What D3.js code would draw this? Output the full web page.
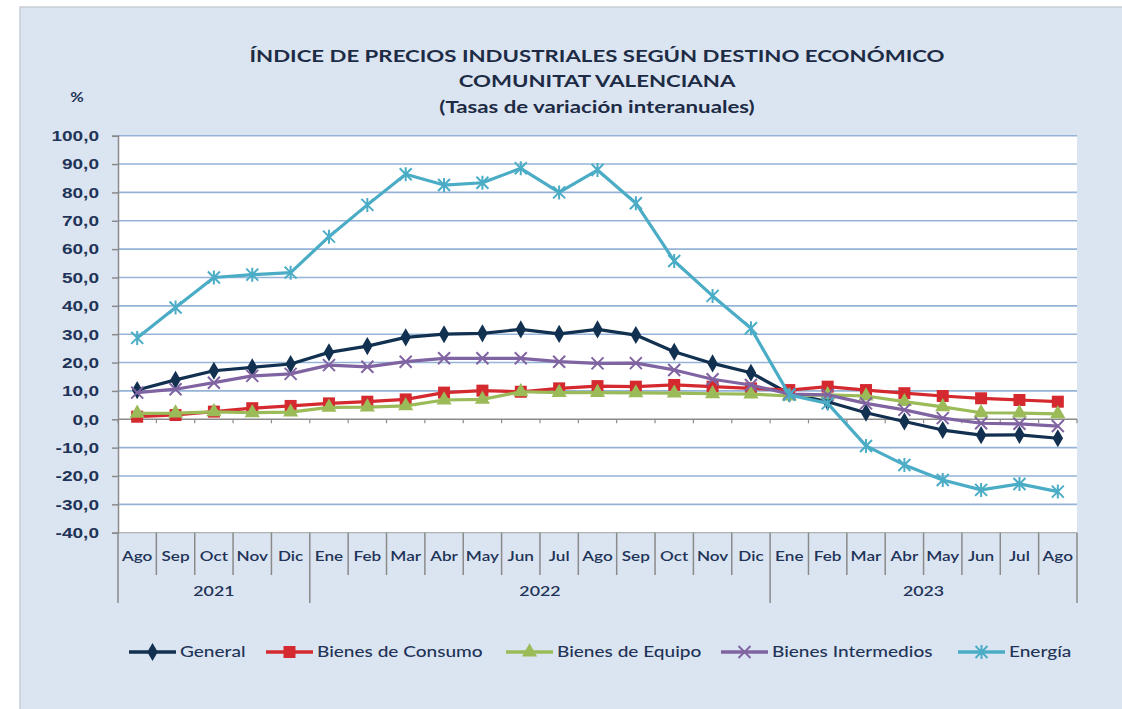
<!DOCTYPE html>
<html>
<head>
<meta charset="utf-8">
<script src="https://cdn.jsdelivr.net/npm/d3@7"></script>
<style>
  body { margin: 0; background: #ffffff; }
  svg { display: block; font-family: Lato, "Open Sans", sans-serif; }
</style>
</head>
<body>
<svg id="chart" width="1122" height="709"></svg>
<script>
// Months shown on the x axis (Ago 2021 .. Ago 2023)
const months = ["Ago","Sep","Oct","Nov","Dic","Ene","Feb","Mar","Abr","May","Jun","Jul","Ago",
                "Sep","Oct","Nov","Dic","Ene","Feb","Mar","Abr","May","Jun","Jul","Ago"];
const years = [{label: "2021", from: 0, to: 5}, {label: "2022", from: 5, to: 17}, {label: "2023", from: 17, to: 25}];
const yTicks = [100, 90, 80, 70, 60, 50, 40, 30, 20, 10, 0, -10, -20, -30, -40];

// Values
const general     = [10.3, 13.9, 17.1, 18.3, 19.5, 23.6, 25.8, 28.9, 30.0, 30.3, 31.7, 30.1, 31.7,
                     29.7, 23.8, 19.7, 16.4, 9.0, 6.2, 2.3, -0.8, -3.8, -5.6, -5.5, -6.7];
const consumo     = [0.9, 1.5, 2.7, 3.9, 4.7, 5.6, 6.2, 7.0, 9.4, 10.1, 9.7, 10.9, 11.7,
                     11.5, 12.1, 11.5, 10.9, 10.3, 11.5, 10.3, 9.2, 8.2, 7.4, 6.8, 6.2];
const equipo      = [2.1, 2.2, 2.6, 2.3, 2.5, 4.2, 4.3, 4.7, 6.8, 7.0, 9.7, 9.4, 9.4,
                     9.3, 9.2, 9.0, 8.9, 8.2, 8.6, 8.2, 6.2, 4.4, 2.3, 2.2, 1.9];
const intermedios = [9.4, 10.6, 12.9, 15.3, 16.0, 19.1, 18.5, 20.3, 21.5, 21.5, 21.5, 20.3, 19.7,
                     19.8, 17.4, 14.1, 12.1, 8.9, 8.6, 5.6, 3.3, 0.4, -1.4, -1.6, -2.4];
const energia     = [28.7, 39.4, 50.0, 51.0, 51.7, 64.4, 75.6, 86.4, 82.6, 83.4, 88.5, 80.0, 87.9,
                     76.2, 55.8, 43.5, 32.1, 8.6, 5.6, -9.4, -16.1, -21.4, -24.9, -22.8, -25.5];

const series = [
  {name: "General", values: general, color: "#12304f", marker: "diamond"},
  {name: "Bienes de Consumo", values: consumo, color: "#d42a2f", marker: "square"},
  {name: "Bienes de Equipo", values: equipo, color: "#9bbb59", marker: "triangle"},
  {name: "Bienes Intermedios", values: intermedios, color: "#8064a2", marker: "cross"},
  {name: "Energía", values: energia, color: "#4bacc6", marker: "star"}
];

const svg = d3.select("#chart");
const textColor = "#1f3458";
const SX = 1.27; // the original picture is stretched sideways, so is the text

// text layer scaled horizontally; x positions are divided by SX
const textLayer = () => svg.append("g").attr("transform", `scale(${SX},1)`);

// Panel background
svg.append("rect").attr("x", 20).attr("y", 7).attr("width", 1110).attr("height", 710)
  .attr("fill", "#dbe5f1").attr("stroke", "#c9cdd3").attr("stroke-width", 1.5);

const plot = {left: 118, right: 1077, top: 135.7, bottom: 532.7};

const x = d3.scaleBand().domain(d3.range(months.length)).range([plot.left, plot.right]);
const y = d3.scaleLinear().domain([-40, 100]).range([plot.bottom, plot.top]);

// Plot area
svg.append("rect").attr("x", plot.left).attr("y", plot.top)
  .attr("width", plot.right - plot.left).attr("height", plot.bottom - plot.top).attr("fill", "#ffffff");

// Gridlines
svg.append("g").selectAll("line").data(yTicks.filter(d => d !== 0 && d !== -40)).join("line")
  .attr("x1", plot.left).attr("x2", plot.right)
  .attr("y1", d => y(d)).attr("y2", d => y(d))
  .attr("stroke", "#95b3d7").attr("stroke-width", 1.6);

// Y axis
const yAxis = svg.append("g").attr("transform", `translate(${plot.left},0)`)
  .call(d3.axisLeft(y).tickValues(yTicks).tickSize(6)
    .tickFormat(d => d3.format(".1f")(d).replace(".", ",").replace("−", "-")));
yAxis.select(".domain").attr("stroke", "#8a8a8a").attr("stroke-width", 1.5);
yAxis.selectAll(".tick line").attr("stroke", "#8a8a8a").attr("stroke-width", 1.5);
yAxis.selectAll("text").attr("fill", textColor).attr("font-size", 15).attr("font-weight", 600)
  .attr("x", -19 / SX).attr("transform", `scale(${SX},1)`);

// Zero line with small ticks at category boundaries
svg.append("line").attr("x1", plot.left).attr("x2", plot.right)
  .attr("y1", y(0)).attr("y2", y(0)).attr("stroke", "#8a8a8a").attr("stroke-width", 1.5);
svg.append("g").selectAll("line").data(d3.range(months.length + 1)).join("line")
  .attr("x1", i => plot.left + i * x.step()).attr("x2", i => plot.left + i * x.step())
  .attr("y1", y(0)).attr("y2", y(0) + 4).attr("stroke", "#8a8a8a").attr("stroke-width", 1.2);

// Bottom category band
svg.append("line").attr("x1", plot.left).attr("x2", plot.right)
  .attr("y1", plot.bottom).attr("y2", plot.bottom).attr("stroke", "#a0a0a0").attr("stroke-width", 1);
const yearBounds = new Set(years.map(d => d.from).concat([months.length]));
svg.append("g").selectAll("line").data(d3.range(months.length + 1)).join("line")
  .attr("x1", i => plot.left + i * x.step()).attr("x2", i => plot.left + i * x.step())
  .attr("y1", plot.bottom).attr("y2", i => yearBounds.has(i) ? 603 : 575)
  .attr("stroke", "#8a8a8a").attr("stroke-width", 1.5);

textLayer().selectAll("text").data(months).join("text")
  .attr("x", (d, i) => (x(i) + x.bandwidth() / 2) / SX).attr("y", 561)
  .attr("text-anchor", "middle").attr("font-size", 13.5).attr("font-weight", 600)
  .attr("fill", textColor).text(d => d);

textLayer().selectAll("text").data(years).join("text")
  .attr("x", d => (plot.left + (d.from + d.to) / 2 * x.step()) / SX).attr("y", 596)
  .attr("text-anchor", "middle").attr("font-size", 14).attr("font-weight", 600)
  .attr("fill", textColor).text(d => d.label);

// Title
const titleLines = ["ÍNDICE DE PRECIOS INDUSTRIALES SEGÚN DESTINO ECONÓMICO",
                    "COMUNITAT VALENCIANA", "(Tasas de variación interanuales)"];
textLayer().selectAll("text").data(titleLines).join("text")
  .attr("x", 597 / SX).attr("y", (d, i) => 62 + i * 25.5)
  .attr("text-anchor", "middle").attr("font-size", 17.5).attr("font-weight", 700)
  .attr("fill", "#1d2b45").text(d => d);

textLayer().append("text").attr("x", 77 / SX).attr("y", 102).attr("text-anchor", "middle")
  .attr("font-size", 13).attr("font-weight", 700).attr("fill", textColor).text("%");

// Marker drawing
function drawMarker(g, type, color) {
  if (type === "diamond") {
    g.append("path").attr("d", d3.symbol(d3.symbolDiamond, 95)()).attr("fill", color);
  } else if (type === "square") {
    g.append("rect").attr("x", -6).attr("y", -6).attr("width", 12).attr("height", 12).attr("fill", color);
  } else if (type === "triangle") {
    g.append("path").attr("d", d3.symbol(d3.symbolTriangle, 100)()).attr("fill", color);
  } else if (type === "cross") {
    g.append("path").attr("d", "M-6,-6L6,6M-6,6L6,-6").attr("stroke", color).attr("stroke-width", 2);
  } else {
    g.append("path").attr("d", "M-6,-6L6,6M-6,6L6,-6M0,-7L0,7").attr("stroke", color).attr("stroke-width", 2);
  }
}

const line = d3.line().x((d, i) => x(i) + x.bandwidth() / 2).y(d => y(d));

series.forEach(s => {
  const g = svg.append("g");
  g.append("path").datum(s.values).attr("d", line)
    .attr("fill", "none").attr("stroke", s.color).attr("stroke-width", 3.2).attr("stroke-linejoin", "round");
  g.selectAll("g").data(s.values).join("g")
    .attr("transform", (d, i) => `translate(${x(i) + x.bandwidth() / 2},${y(d)})`)
    .each(function () { drawMarker(d3.select(this), s.marker, s.color); });
});

// Legend
const legendX = [129, 266, 506, 721, 958];
const legend = svg.append("g").selectAll("g").data(series).join("g")
  .attr("transform", (d, i) => `translate(${legendX[i]},652)`);
legend.append("line").attr("x1", 0).attr("x2", 47).attr("stroke", d => d.color).attr("stroke-width", 3.5);
legend.append("g").attr("transform", "translate(23.5,0)")
  .each(function (d) { drawMarker(d3.select(this), d.marker, d.color); });
textLayer().selectAll("text").data(series).join("text")
  .attr("x", (d, i) => (legendX[i] + 51) / SX).attr("y", 657.5)
  .attr("font-size", 15).attr("font-weight", 500)
  .attr("fill", textColor).text(d => d.name);
</script>
</body>
</html>
